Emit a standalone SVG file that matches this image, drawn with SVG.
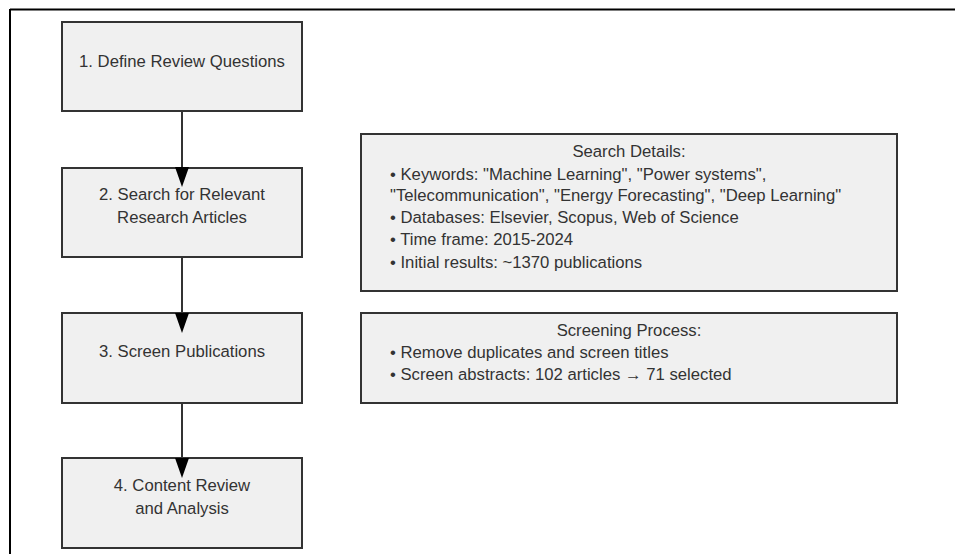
<svg xmlns="http://www.w3.org/2000/svg" width="955" height="554" viewBox="0 0 955 554">
<style>
.box{fill:#f0f0f0;stroke:#333;stroke-width:2}
text{font-family:"Liberation Sans",Arial,sans-serif;font-size:16.7px;fill:#333}
.c{text-anchor:middle}
.edge{stroke:#333;stroke-width:2;fill:none;marker-end:url(#ad)}
</style>
<defs>
<marker id="ad" viewBox="0 0 20 14" refX="0" refY="7" markerWidth="20" markerHeight="14" markerUnits="userSpaceOnUse" orient="auto">
<path d="M0,0 L20,7 L0,14 Z" fill="#000"/>
</marker>
</defs>
<rect width="955" height="554" fill="#fff"/>
<g id="frame">
<line x1="10" y1="9.5" x2="955" y2="9.5" stroke="#000" stroke-width="2"/>
<line x1="10" y1="9" x2="10" y2="554" stroke="#000" stroke-width="2"/>
</g>
<g id="n1"><rect class="box" x="62" y="22" width="240" height="89"/><text class="c" x="182" y="67">1. Define Review Questions</text></g>
<g id="n2"><rect class="box" x="62" y="168" width="240" height="89"/><text class="c" x="182" y="200">2. Search for Relevant</text><text class="c" x="182" y="223">Research Articles</text></g>
<g id="n3"><rect class="box" x="62" y="313" width="240" height="90"/><text class="c" x="182" y="357">3. Screen Publications</text></g>
<g id="n4"><rect class="box" x="62" y="458" width="240" height="90"/><text class="c" x="182" y="491">4. Content Review</text><text class="c" x="182" y="514">and Analysis</text></g>
<g id="search">
<rect class="box" x="361" y="134" width="536" height="157"/>
<text class="c" x="629" y="157">Search Details:</text>
<text x="390" y="180">• Keywords: "Machine Learning", "Power systems",</text>
<text x="390" y="201">"Telecommunication", "Energy Forecasting", "Deep Learning"</text>
<text x="390" y="223">• Databases: Elsevier, Scopus, Web of Science</text>
<text x="390" y="245">• Time frame: 2015-2024</text>
<text x="390" y="268">• Initial results: ~1370 publications</text>
</g>
<g id="screening">
<rect class="box" x="361" y="313" width="536" height="90"/>
<text class="c" x="629" y="336">Screening Process:</text>
<text x="390" y="358">• Remove duplicates and screen titles</text>
<text x="390" y="380">• Screen abstracts: 102 articles → 71 selected</text>
</g>
<g id="connectors">
<line class="edge" x1="182" y1="111" x2="182" y2="167"/>
<line class="edge" x1="182" y1="257" x2="182" y2="313"/>
<line class="edge" x1="182" y1="403" x2="182" y2="458"/>
</g>
</svg>
